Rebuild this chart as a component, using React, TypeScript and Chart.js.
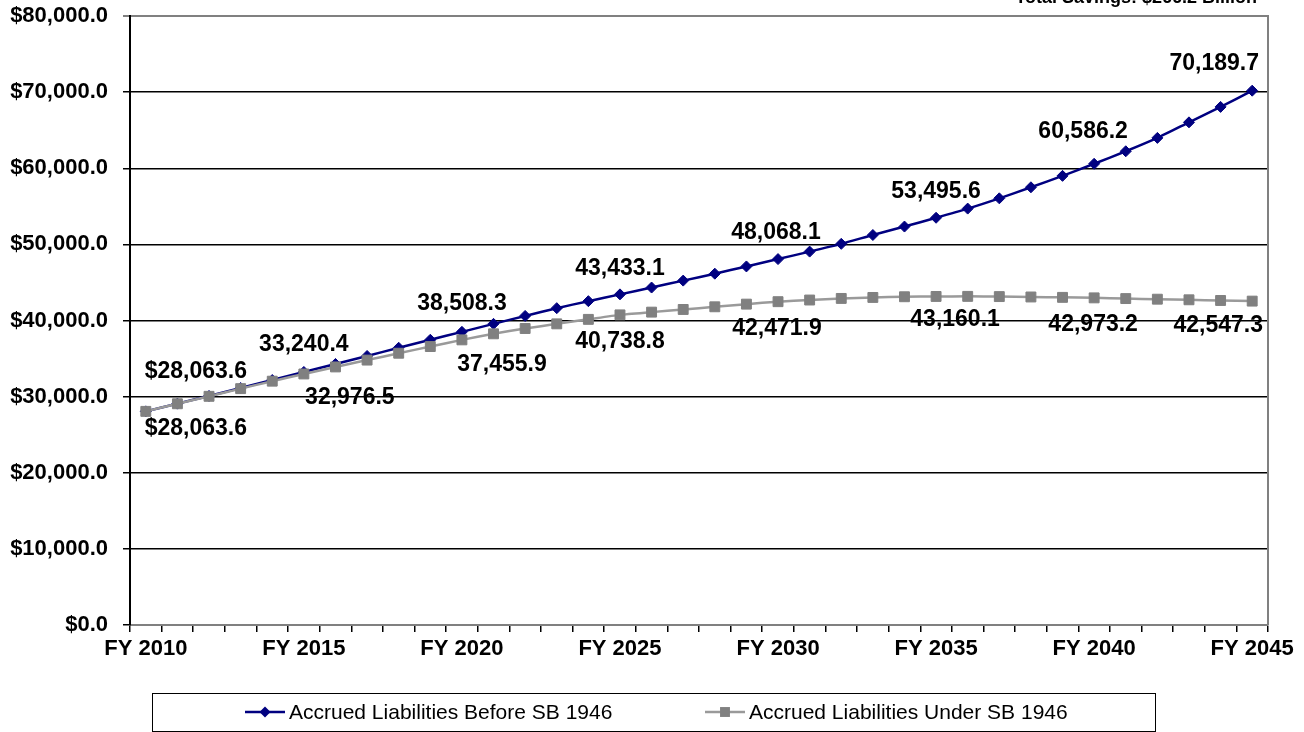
import React, { useEffect, useRef } from "react";
import { Chart, registerables } from "chart.js";

Chart.register(...registerables);

const CATEGORIES = [
  "FY 2010", "FY 2011", "FY 2012", "FY 2013", "FY 2014", "FY 2015",
  "FY 2016", "FY 2017", "FY 2018", "FY 2019", "FY 2020", "FY 2021",
  "FY 2022", "FY 2023", "FY 2024", "FY 2025", "FY 2026", "FY 2027",
  "FY 2028", "FY 2029", "FY 2030", "FY 2031", "FY 2032", "FY 2033",
  "FY 2034", "FY 2035", "FY 2036", "FY 2037", "FY 2038", "FY 2039",
  "FY 2040", "FY 2041", "FY 2042", "FY 2043", "FY 2044", "FY 2045",
];

const BEFORE_SB1946 = [
  28063.6, 29080, 30090, 31130, 32180, 33240.4,
  34290, 35340, 36420, 37470, 38508.3, 39560,
  40600, 41620, 42540, 43433.1, 44330, 45240,
  46150, 47100, 48068.1, 49050, 50070, 51230,
  52340, 53495.6, 54700, 56050, 57500, 59000,
  60586.2, 62230, 63990, 66030, 68060, 70189.7,
];

const UNDER_SB1946 = [
  28063.6, 29060, 30040, 31050, 32030, 32976.5,
  33900, 34800, 35700, 36580, 37455.9, 38250,
  38950, 39560, 40150, 40738.8, 41100, 41450,
  41800, 42150, 42471.9, 42690, 42900, 43030,
  43120, 43160.1, 43170, 43140, 43090, 43040,
  42973.2, 42880, 42800, 42720, 42630, 42547.3,
];

const SERIES_NAMES = ["Accrued Liabilities Before SB 1946", "Accrued Liabilities Under SB 1946"];
const LABELED_INDEX = [0, 5, 10, 15, 20, 25, 30, 35];
const Y_MIN = 0;
const Y_MAX = 80000;
const Y_STEP = 10000;
const TITLE_TEXT = "Total Savings: $266.2 Billion";

// label placement offsets (pixels) relative to the point
const BEFORE_LABEL_OFFSETS = [[50, -40], [0, -27], [0, -28], [0, -26], [-2, -26], [0, -26], [-11, -32], [-38, -27]];
const UNDER_LABEL_OFFSETS = [[50, 17], [46, 24], [40, 25], [0, 27], [-1, 27], [19, 23], [-1, 27], [-34, 25]];

const FONT = "'Liberation Sans', Arial, sans-serif";
const BLUE = "#000080";
const GRAY_PT = "#808080";
const GRAY_LINE = "#9a9a9a";

function fmt(v: number, dollar: boolean) {
  const s = v.toLocaleString("en-US", { minimumFractionDigits: 1, maximumFractionDigits: 1 });
  return dollar ? "$" + s : s;
}

function drawMarker(ctx: CanvasRenderingContext2D, style: string, r: number, x: number, y: number) {
  ctx.beginPath();
  if (style === "rectRot") {
    ctx.moveTo(x, y - r);
    ctx.lineTo(x + r, y);
    ctx.lineTo(x, y + r);
    ctx.lineTo(x - r, y);
  } else {
    const s = r * Math.SQRT1_2;
    ctx.rect(x - s, y - s, 2 * s, 2 * s);
  }
  ctx.closePath();
  ctx.fill();
}

const extrasPlugin = {
  id: "extras",
  afterDatasetsDraw(chart: any) {
    const ctx = chart.ctx;
    const area = chart.chartArea;
    ctx.save();
    // right border of plot area
    ctx.strokeStyle = "#808080";
    ctx.lineWidth = 2;
    ctx.beginPath();
    ctx.moveTo(area.right, area.top - 1);
    ctx.lineTo(area.right, area.bottom);
    ctx.stroke();

    // data labels
    ctx.fillStyle = "#000";
    ctx.font = `bold 23px ${FONT}`;
    ctx.textAlign = "center";
    ctx.textBaseline = "middle";
    const offsets = [BEFORE_LABEL_OFFSETS, UNDER_LABEL_OFFSETS];
    chart.data.datasets.forEach((ds: any, di: number) => {
      const meta = chart.getDatasetMeta(di);
      LABELED_INDEX.forEach((idx, k) => {
        const el = meta.data[idx];
        if (!el) return;
        const [dx, dy] = offsets[di][k];
        ctx.fillText(fmt(ds.data[idx], idx === 0), el.x + dx, el.y + dy);
      });
    });

    // clipped title at top right
    ctx.font = `bold 18px ${FONT}`;
    ctx.textAlign = "right";
    ctx.textBaseline = "alphabetic";
    ctx.fillText(TITLE_TEXT, 1257, 3);

    // legend
    ctx.strokeStyle = "#000";
    ctx.lineWidth = 1;
    ctx.strokeRect(152.5, 693.5, 1003, 38);
    const ly = 712;
    const items = [
      { x0: 245, color: BLUE, lineColor: BLUE, style: "rectRot", r: 5.5 },
      { x0: 705, color: GRAY_PT, lineColor: GRAY_LINE, style: "rect", r: 7 },
    ];
    items.forEach((it, i) => {
      ctx.strokeStyle = it.lineColor;
      ctx.lineWidth = 2.5;
      ctx.beginPath();
      ctx.moveTo(it.x0, ly);
      ctx.lineTo(it.x0 + 40, ly);
      ctx.stroke();
      ctx.fillStyle = it.color;
      drawMarker(ctx, it.style, it.r, it.x0 + 20, ly);
      ctx.fillStyle = "#000";
      ctx.font = `21px ${FONT}`;
      ctx.textAlign = "left";
      ctx.textBaseline = "middle";
      ctx.fillText(SERIES_NAMES[i], it.x0 + 44, ly + 1);
    });
    ctx.restore();
  },
};

export default function App() {
  const ref = useRef<HTMLCanvasElement>(null);
  useEffect(() => {
    if (!ref.current) return;
    const chart = new Chart(ref.current, {
      type: "line",
      data: {
        labels: CATEGORIES,
        datasets: [
          {
            label: SERIES_NAMES[0],
            data: BEFORE_SB1946,
            borderColor: BLUE,
            backgroundColor: BLUE,
            borderWidth: 2.5,
            pointStyle: "rectRot",
            pointRadius: 5.5,
            pointBackgroundColor: BLUE,
            pointBorderColor: BLUE,
            pointBorderWidth: 1,
            tension: 0.2,
            order: 1,
          },
          {
            label: SERIES_NAMES[1],
            data: UNDER_SB1946,
            borderColor: GRAY_LINE,
            backgroundColor: GRAY_PT,
            borderWidth: 2.5,
            pointStyle: "rect",
            pointRadius: 7,
            pointBackgroundColor: GRAY_PT,
            pointBorderColor: GRAY_PT,
            pointBorderWidth: 1,
            tension: 0.2,
            order: 0,
          },
        ],
      },
      options: {
        responsive: false,
        animation: false,
        events: [],
        layout: { padding: { top: 16, right: 36, left: 0, bottom: 0 } },
        plugins: {
          legend: { display: false },
          tooltip: { enabled: false },
          title: { display: false },
        },
        scales: {
          x: {
            type: "category",
            offset: true,
            afterFit: (s: any) => { s.height = 107; },
            grid: {
              offset: true,
              drawOnChartArea: false,
              drawTicks: true,
              tickLength: 7,
              color: "#000",
              lineWidth: 1.5,
            },
            border: { display: true, color: "#808080", width: 2 },
            ticks: {
              autoSkip: false,
              maxRotation: 0,
              minRotation: 0,
              padding: 4,
              color: "#000",
              font: { family: FONT, size: 22, weight: "bold" },
              callback: (_v: any, i: number) => (LABELED_INDEX.includes(i) ? CATEGORIES[i] : ""),
            },
          },
          y: {
            min: Y_MIN,
            max: Y_MAX,
            afterFit: (s: any) => { s.width = 130; s.paddingTop = 0; s.paddingBottom = 0; },
            grid: {
              color: (c: any) => (c.tick && c.tick.value === Y_MAX ? "#808080" : "#000"),
              lineWidth: (c: any) => (c.tick && c.tick.value === Y_MAX ? 2 : 1.5),
              tickLength: 7,
              drawTicks: true,
            },
            border: { display: true, color: "#000", width: 2 },
            ticks: {
              stepSize: Y_STEP,
              padding: 15,
              color: "#000",
              font: { family: FONT, size: 22, weight: "bold" },
              callback: (v: any) => fmt(Number(v), true),
            },
          },
        },
      },
      plugins: [extrasPlugin],
    });
    return () => chart.destroy();
  }, []);
  return (
    <div style={{ position: "fixed", left: 0, top: 0, width: 1304, height: 732, background: "#fff" }}>
      <canvas ref={ref} width={1304} height={732} />
    </div>
  );
}
